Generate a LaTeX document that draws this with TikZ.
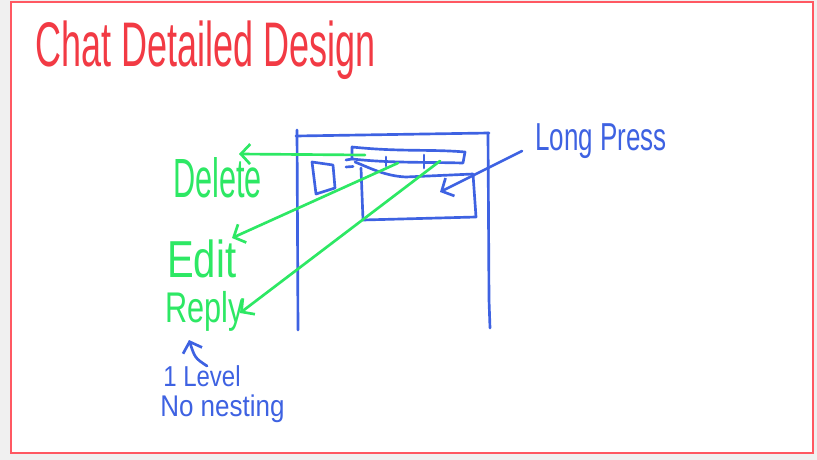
\documentclass[tikz,border=0pt]{standalone}
\usepackage{fontspec}
\setmainfont{Liberation Sans}
\usepackage{graphicx}
\usetikzlibrary{arrows.meta}

\definecolor{inkred}{RGB}{242,58,68}
\definecolor{framered}{RGB}{255,88,98}
\definecolor{inkgreen}{RGB}{45,232,100}
\definecolor{inkblue}{RGB}{62,98,226}
\definecolor{canvasgray}{RGB}{240,240,240}

% size, vertical stretch, text
\newcommand{\handwrite}[3]{\fontsize{#1}{#1}\selectfont\scalebox{1}[#2]{#3}}

\tikzset{
  pen/.style={line width=2pt, line cap=round, line join=round},
  pointer/.style={pen, -{Straight Barb[length=7pt,width=15pt]}},
  scribble/.style={anchor=base west, inner sep=0pt},
}

\begin{document}
\begin{tikzpicture}[x=0.75pt,y=0.75pt,yscale=-1,xscale=1]
%set diagram to 817 x 460
\path [fill=canvasgray] (0,0) rectangle (817,460);
\draw [framered, line width=1.5pt, fill=white] (10.5,2.5) rectangle (812.5,453);

% Text Node
\draw (35,67) node [scribble, text=inkred] (title) {\handwrite{27}{1.75}{Chat Detailed Design}};

%Phone outline
\draw [pen, inkblue] (297,130) -- (298,330);
\draw [pen, inkblue] (296,136) -- (489,133);
\draw [pen, inkblue] (488,133) -- (489,300) -- (490,328);

%Avatar
\draw [pen, inkblue] (312,162) -- (333,165) -- (335,188) -- (316,194) -- cycle;

%Menu bar
\draw [pen, inkblue] (352,147) .. controls (400,152) and (430,149) .. (465,152) -- (463,163) .. controls (420,162) and (390,163) .. (352,159) -- cycle;
\draw [pen, inkblue] (386,157) -- (386,166);
\draw [pen, inkblue] (424,155) -- (424,168);
\draw [pen, inkblue] (346,160) -- (352,159);
\draw [pen, inkblue] (346,167) -- (353,166.5);
\coordinate (delete item) at (365,155);
\coordinate (edit item) at (398,163);
\coordinate (reply item) at (440,161);

%Message bubble
\draw [pen, inkblue] (361,168) -- (363,220) -- (476,217) -- (473,174) -- (406,177) .. controls (385,176) and (370,168) .. (355,162);

% Text Node
\draw (535,150) node [scribble, text=inkblue] (press) {\handwrite{19.5}{1.5}{Long Press}};
\coordinate (press tail) at (522,151);
\coordinate (press tip) at (440,192);
\draw [pointer, inkblue] (press tail) -- (press tip);

% Text Node
\draw (173,197) node [scribble, text=inkgreen] (delete) {\handwrite{23}{1.8}{Delete}};
% Text Node
\draw (167,277) node [scribble, text=inkgreen] (edit) {\handwrite{30}{1.3}{Edit}};
% Text Node
\draw (165,322) node [scribble, text=inkgreen] (reply) {\handwrite{23}{1.4}{Reply}};

%Menu arrows
\coordinate (delete tip) at (239,154);
\coordinate (edit tip) at (232,238);
\coordinate (reply tip) at (240,313);
\draw [pointer, inkgreen] (delete item) -- (delete tip);
\draw [pointer, inkgreen] (edit item) -- (edit tip);
\draw [pointer, inkgreen] (reply item) -- (reply tip);

% Text Node
\draw (163,386) node [scribble, text=inkblue] (level) {\handwrite{18}{1.2}{1 Level}};
% Text Node
\draw (160,416) node [scribble, text=inkblue] (nesting) {\handwrite{19.5}{1.15}{No nesting}};
\coordinate (level tail) at (207,366);
\coordinate (level tip) at (189,340);
\draw [pointer, inkblue] (level tail) .. controls (195,358) .. (level tip);

\end{tikzpicture}
\end{document}
